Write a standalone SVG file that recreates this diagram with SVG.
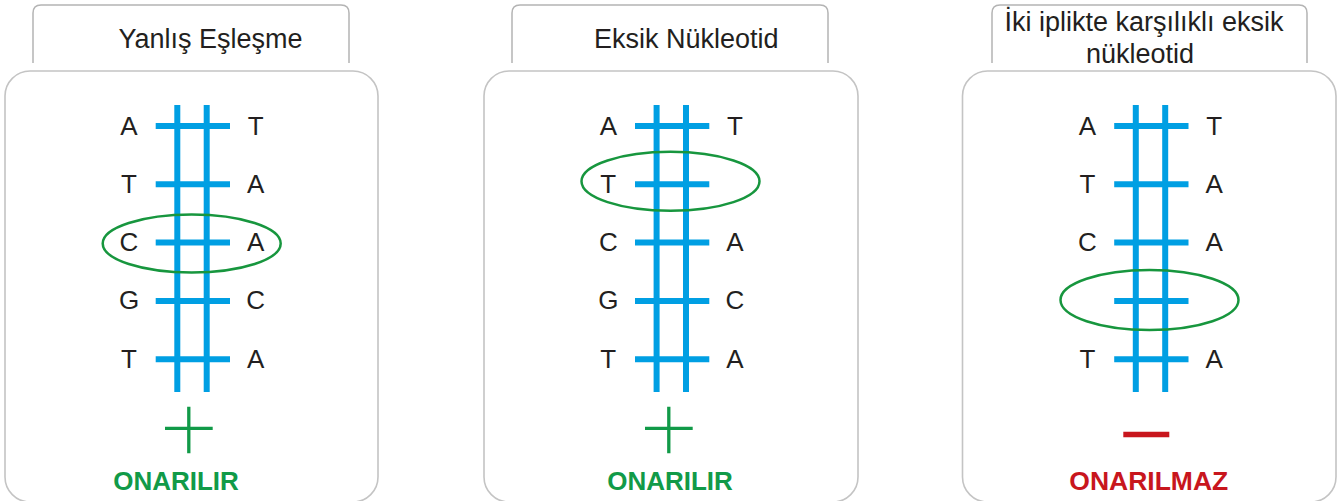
<svg xmlns="http://www.w3.org/2000/svg" width="1338" height="501" viewBox="0 0 1338 501">
<style>
.panel{fill:#fff;stroke:#c4c4c4;stroke-width:1.6}
.hdr{fill:#fff;stroke:#b4b4b4;stroke-width:1.5}
.title{font-family:"Liberation Sans",Arial,sans-serif;font-size:27px;fill:#231f20}
.base{font-family:"Liberation Sans",Arial,sans-serif;font-size:26px;fill:#231f20;text-anchor:middle}
.strand{stroke:#009fe3;stroke-width:6;fill:none}
.ring{fill:none;stroke:#17963e;stroke-width:2.5}
.ok{font-family:"Liberation Sans",Arial,sans-serif;font-size:26px;font-weight:bold;fill:#119a48;text-anchor:middle}
.no{font-family:"Liberation Sans",Arial,sans-serif;font-size:26.5px;font-weight:bold;fill:#c8161d;text-anchor:middle}
</style>
<defs>
<g id="ladder">
<line class="strand" x1="177.3" y1="105" x2="177.3" y2="392"/>
<line class="strand" x1="206.7" y1="105" x2="206.7" y2="392"/>
<line class="strand" x1="155.7" y1="126" x2="230" y2="126"/>
<line class="strand" x1="155.7" y1="184.3" x2="230" y2="184.3"/>
<line class="strand" x1="155.7" y1="242.6" x2="230" y2="242.6"/>
<line class="strand" x1="155.7" y1="300.9" x2="230" y2="300.9"/>
<line class="strand" x1="155.7" y1="359.2" x2="230" y2="359.2"/>
</g>
</defs>

<g id="panel1">
<path class="hdr" d="M33,63 V13 Q33,5 41,5 H341 Q349,5 349,13 V63"/>
<text class="title" x="118.5" y="48">Yanlış Eşleşme</text>
<rect class="panel" x="5" y="71" width="373" height="431" rx="25"/>
<use href="#ladder"/>
<text class="base" x="129" y="134.5">A</text><text class="base" x="255.7" y="134.5">T</text>
<text class="base" x="129" y="192.8">T</text><text class="base" x="255.7" y="192.8">A</text>
<text class="base" x="129" y="251.1">C</text><text class="base" x="255.7" y="251.1">A</text>
<text class="base" x="129" y="309.4">G</text><text class="base" x="255.7" y="309.4">C</text>
<text class="base" x="129" y="367.7">T</text><text class="base" x="255.7" y="367.7">A</text>
<ellipse class="ring" cx="191.7" cy="243.5" rx="89" ry="29"/>
<path d="M165,428.3 H212.7 M188.8,406.7 V453.3" stroke="#119a48" stroke-width="3.3" fill="none"/>
<text class="ok" x="176" y="490">ONARILIR</text>
</g>

<g id="panel2">
<path class="hdr" d="M512,63 V13 Q512,5 520,5 H820 Q828,5 828,13 V63"/>
<text class="title" x="594" y="48">Eksik Nükleotid</text>
<rect class="panel" x="484" y="71" width="374" height="431" rx="25"/>
<use href="#ladder" transform="translate(479.3,0)"/>
<text class="base" x="608.3" y="134.5">A</text><text class="base" x="735" y="134.5">T</text>
<text class="base" x="608.3" y="192.8">T</text>
<text class="base" x="608.3" y="251.1">C</text><text class="base" x="735" y="251.1">A</text>
<text class="base" x="608.3" y="309.4">G</text><text class="base" x="735" y="309.4">C</text>
<text class="base" x="608.3" y="367.7">T</text><text class="base" x="735" y="367.7">A</text>
<ellipse class="ring" cx="670.5" cy="181.3" rx="89" ry="29.5"/>
<path d="M645,428.3 H692.7 M668.8,406.7 V453.3" stroke="#119a48" stroke-width="3.3" fill="none"/>
<text class="ok" x="670" y="490">ONARILIR</text>
</g>

<g id="panel3">
<path class="hdr" d="M992,63 V13 Q992,5 1000,5 H1299 Q1307,5 1307,13 V63"/>
<text class="title" x="1144" y="31" text-anchor="middle">İki iplikte karşılıklı eksik</text>
<text class="title" x="1140" y="63" text-anchor="middle">nükleotid</text>
<rect class="panel" x="962.5" y="71" width="373.5" height="431" rx="25"/>
<use href="#ladder" transform="translate(958.5,0)"/>
<text class="base" x="1087.5" y="134.5">A</text><text class="base" x="1214.2" y="134.5">T</text>
<text class="base" x="1087.5" y="192.8">T</text><text class="base" x="1214.2" y="192.8">A</text>
<text class="base" x="1087.5" y="251.1">C</text><text class="base" x="1214.2" y="251.1">A</text>
<text class="base" x="1087.5" y="367.7">T</text><text class="base" x="1214.2" y="367.7">A</text>
<ellipse class="ring" cx="1149.5" cy="300" rx="89" ry="30"/>
<line x1="1123.3" y1="434.5" x2="1169.3" y2="434.5" stroke="#c8161d" stroke-width="5.5"/>
<text class="no" x="1148.8" y="490">ONARILMAZ</text>
</g>
</svg>
